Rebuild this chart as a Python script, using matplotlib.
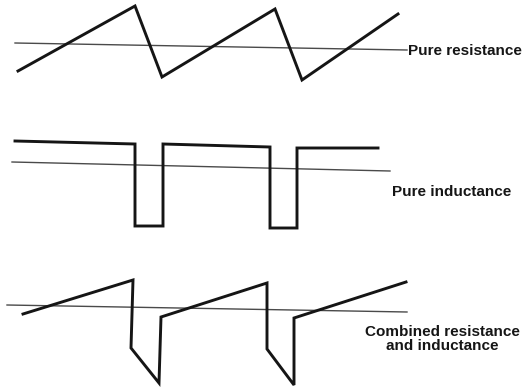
import matplotlib.pyplot as plt

# waveforms (x, y in picture pixels, y grows downward)
res_x = [18, 135, 162, 275, 302, 398]
res_y = [71, 6, 77, 9, 80, 14]
res_axis_x = [15, 407]
res_axis_y = [43, 50]

ind_x = [15, 135, 135, 163, 163, 270, 270, 297, 297, 300, 378]
ind_y = [141, 144, 226, 226, 144, 147, 228, 228, 148, 148, 148]
ind_axis_x = [12, 390]
ind_axis_y = [162, 171]

comb_x = [23, 133, 131, 159, 161, 267, 267, 294, 294, 406]
comb_y = [314, 280, 348, 383, 317, 283, 349, 385, 318, 282]
comb_axis_x = [7, 407]
comb_axis_y = [305, 312]

labels = ['Pure resistance', 'Pure inductance', 'Combined resistance\nand inductance']

fig = plt.figure(figsize=(5.29, 3.88), dpi=100)
ax = fig.add_axes([0, 0, 1, 1])
ax.set_xlim(0, 529)
ax.set_ylim(388, 0)
ax.axis('off')

wave = dict(color='#151515', lw=2.1, solid_joinstyle='miter')
axis = dict(color='#4a4a4a', lw=1.0)

ax.plot(res_axis_x, res_axis_y, **axis)
ax.plot(res_x, res_y, **wave)
ax.plot(ind_axis_x, ind_axis_y, **axis)
ax.plot(ind_x, ind_y, **wave)
ax.plot(comb_axis_x, comb_axis_y, **axis)
ax.plot(comb_x, comb_y, **wave)

font = dict(family=['Liberation Sans', 'DejaVu Sans'], fontsize=11,
            fontweight='bold', color='#151515')
ax.text(408, 51, labels[0], ha='left', va='center', **font)
ax.text(392, 192, labels[1], ha='left', va='center', **font)
ax.text(442, 339, labels[2], ha='center', va='center', linespacing=1.0, **font)

fig.savefig('out.png', dpi=100)
